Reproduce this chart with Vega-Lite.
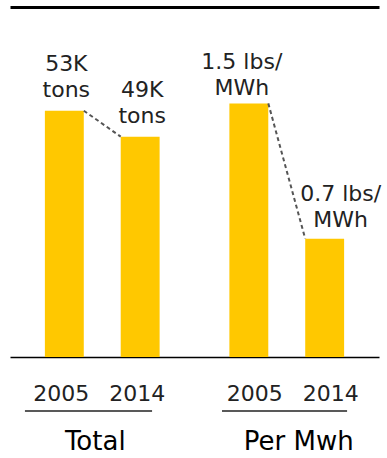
{
  "$schema": "https://vega.github.io/schema/vega-lite/v6.json",
  "width": 369,
  "height": 350,
  "autosize": {"type": "none"},
  "padding": {"left": 10, "top": 7, "right": 8, "bottom": 101},
  "background": "white",
  "config": {"view": {"stroke": null}, "font": "DejaVu Sans"},
  "datasets": {
    "bars": [
      {"group": "Total", "year": "2005", "value": 53, "label": "53K\ntons"},
      {"group": "Total", "year": "2014", "value": 49, "label": "49K\ntons"},
      {"group": "Per Mwh", "year": "2005", "value": 1.5, "label": "1.5 lbs/\nMWh"},
      {"group": "Per Mwh", "year": "2014", "value": 0.7, "label": "0.7 lbs/\nMWh"}
    ],
    "groups": [
      {"group": "Total", "start": 53, "end": 49},
      {"group": "Per Mwh", "start": 1.5, "end": 0.7}
    ]
  },
  "resolve": {"scale": {"y": "independent"}},
  "layer": [
    {
      "layer": [
        {
          "data": {"name": "bars"},
          "transform": [{"filter": "datum.group == 'Total'"}],
          "mark": {"type": "bar", "color": "#FFC800"},
          "encoding": {
            "x": {"field": "group", "type": "nominal", "scale": {"domain": ["Total", "Per Mwh"], "paddingInner": 0, "paddingOuter": 0},
              "axis": {"orient": "bottom", "title": null, "ticks": false, "domainColor": "#000", "domainWidth": 1.5, "labelFont": "DejaVu Sans", "labelFontSize": 26, "labelFontWeight": "normal", "labelColor": "#000", "labelPadding": 71, "labelAngle": 0,
                "labelOffset": {"condition": {"test": "datum.label == 'Total'", "value": -7}, "value": 12}}},
            "xOffset": {"field": "year", "type": "nominal", "scale": {"paddingInner": 0.487, "paddingOuter": 0.46}},
            "y": {"field": "value", "type": "quantitative", "scale": {"domain": [15, 69], "clamp": true}, "axis": null}
          }
        },
        {
          "data": {"name": "bars"},
          "transform": [{"filter": "datum.group == 'Total'"}],
          "mark": {"type": "text", "lineBreak": "\n", "baseline": "bottom", "dy": -35, "dx": 2, "lineHeight": 26, "fontSize": 22, "color": "#222", "font": "DejaVu Sans"},
          "encoding": {
            "x": {"field": "group", "type": "nominal", "scale": {"domain": ["Total", "Per Mwh"], "paddingInner": 0, "paddingOuter": 0}},
            "xOffset": {"field": "year", "type": "nominal", "scale": {"paddingInner": 0.487, "paddingOuter": 0.46}},
            "y": {"field": "value", "type": "quantitative", "scale": {"domain": [15, 69], "clamp": true}, "axis": null},
            "text": {"field": "label"}
          }
        },
        {
          "data": {"name": "bars"},
          "transform": [{"filter": "datum.group == 'Total'"}],
          "mark": {"type": "text", "baseline": "middle", "dy": 37, "dx": -3, "fontSize": 22, "color": "#222", "font": "DejaVu Sans"},
          "encoding": {
            "x": {"field": "group", "type": "nominal", "scale": {"domain": ["Total", "Per Mwh"], "paddingInner": 0, "paddingOuter": 0}},
            "xOffset": {"field": "year", "type": "nominal", "scale": {"paddingInner": 0.487, "paddingOuter": 0.46}},
            "y": {"datum": 15, "type": "quantitative", "scale": {"domain": [15, 69], "clamp": true}, "axis": null},
            "text": {"field": "year"}
          }
        },
        {
          "data": {"name": "groups"},
          "transform": [{"filter": "datum.group == 'Total'"}],
          "mark": {"type": "rule", "yOffset": 54, "color": "#222", "strokeWidth": 1.5},
          "encoding": {
            "x": {"field": "group", "type": "nominal", "bandPosition": 0.081, "scale": {"domain": ["Total", "Per Mwh"], "paddingInner": 0, "paddingOuter": 0}},
            "x2": {"field": "group", "bandPosition": 0.77},
            "y": {"datum": 15, "type": "quantitative", "scale": {"domain": [15, 69], "clamp": true}, "axis": null}
          }
        },
        {
          "data": {"name": "groups"},
          "transform": [{"filter": "datum.group == 'Total'"}],
          "mark": {"type": "rule", "strokeDash": [4, 3], "color": "#555", "strokeWidth": 2},
          "encoding": {
            "x": {"field": "group", "type": "nominal", "bandPosition": 0.4, "scale": {"domain": ["Total", "Per Mwh"], "paddingInner": 0, "paddingOuter": 0}},
            "x2": {"field": "group", "bandPosition": 0.6},
            "y": {"field": "start", "type": "quantitative", "scale": {"domain": [15, 69], "clamp": true}, "axis": null},
            "y2": {"field": "end"}
          }
        }
      ]
    },
    {
      "layer": [
        {
          "data": {"name": "bars"},
          "transform": [{"filter": "datum.group == 'Per Mwh'"}],
          "mark": {"type": "bar", "color": "#FFC800"},
          "encoding": {
            "x": {"field": "group", "type": "nominal", "scale": {"domain": ["Total", "Per Mwh"], "paddingInner": 0, "paddingOuter": 0},
              "axis": {"orient": "top", "title": null, "ticks": false, "labels": false, "domainColor": "#000", "domainWidth": 3}},
            "xOffset": {"field": "year", "type": "nominal", "scale": {"paddingInner": 0.487, "paddingOuter": 0.46}},
            "y": {"field": "value", "type": "quantitative", "scale": {"domain": [0, 2.07]}, "axis": null}
          }
        },
        {
          "data": {"name": "bars"},
          "transform": [{"filter": "datum.group == 'Per Mwh' && datum.year == '2005'"}],
          "mark": {"type": "text", "lineBreak": "\n", "baseline": "bottom", "dy": -29, "dx": -7, "lineHeight": 26, "fontSize": 22, "color": "#222", "font": "DejaVu Sans"},
          "encoding": {
            "x": {"field": "group", "type": "nominal", "scale": {"domain": ["Total", "Per Mwh"], "paddingInner": 0, "paddingOuter": 0}},
            "xOffset": {"field": "year", "type": "nominal", "scale": {"domain": ["2005", "2014"], "paddingInner": 0.487, "paddingOuter": 0.46}},
            "y": {"field": "value", "type": "quantitative", "scale": {"domain": [0, 2.07]}, "axis": null},
            "text": {"field": "label"}
          }
        },
        {
          "data": {"name": "bars"},
          "transform": [{"filter": "datum.group == 'Per Mwh' && datum.year == '2014'"}],
          "mark": {"type": "text", "lineBreak": "\n", "baseline": "bottom", "dy": -33, "dx": 16, "lineHeight": 26, "fontSize": 22, "color": "#222", "font": "DejaVu Sans"},
          "encoding": {
            "x": {"field": "group", "type": "nominal", "scale": {"domain": ["Total", "Per Mwh"], "paddingInner": 0, "paddingOuter": 0}},
            "xOffset": {"field": "year", "type": "nominal", "scale": {"domain": ["2005", "2014"], "paddingInner": 0.487, "paddingOuter": 0.46}},
            "y": {"field": "value", "type": "quantitative", "scale": {"domain": [0, 2.07]}, "axis": null},
            "text": {"field": "label"}
          }
        },
        {
          "data": {"name": "bars"},
          "transform": [{"filter": "datum.group == 'Per Mwh'"}],
          "mark": {"type": "text", "baseline": "middle", "dy": 37, "dx": 6, "fontSize": 22, "color": "#222", "font": "DejaVu Sans"},
          "encoding": {
            "x": {"field": "group", "type": "nominal", "scale": {"domain": ["Total", "Per Mwh"], "paddingInner": 0, "paddingOuter": 0}},
            "xOffset": {"field": "year", "type": "nominal", "scale": {"paddingInner": 0.487, "paddingOuter": 0.46}},
            "y": {"datum": 0, "type": "quantitative", "scale": {"domain": [0, 2.07]}, "axis": null},
            "text": {"field": "year"}
          }
        },
        {
          "data": {"name": "groups"},
          "transform": [{"filter": "datum.group == 'Per Mwh'"}],
          "mark": {"type": "rule", "yOffset": 54, "color": "#222", "strokeWidth": 1.5},
          "encoding": {
            "x": {"field": "group", "type": "nominal", "bandPosition": 0.149, "scale": {"domain": ["Total", "Per Mwh"], "paddingInner": 0, "paddingOuter": 0}},
            "x2": {"field": "group", "bandPosition": 0.827},
            "y": {"datum": 0, "type": "quantitative", "scale": {"domain": [0, 2.07]}, "axis": null}
          }
        },
        {
          "data": {"name": "groups"},
          "transform": [{"filter": "datum.group == 'Per Mwh'"}],
          "mark": {"type": "rule", "strokeDash": [4, 3], "color": "#555", "strokeWidth": 2},
          "encoding": {
            "x": {"field": "group", "type": "nominal", "bandPosition": 0.4, "scale": {"domain": ["Total", "Per Mwh"], "paddingInner": 0, "paddingOuter": 0}},
            "x2": {"field": "group", "bandPosition": 0.6},
            "y": {"field": "start", "type": "quantitative", "scale": {"domain": [0, 2.07]}, "axis": null},
            "y2": {"field": "end"}
          }
        }
      ]
    }
  ]
}
